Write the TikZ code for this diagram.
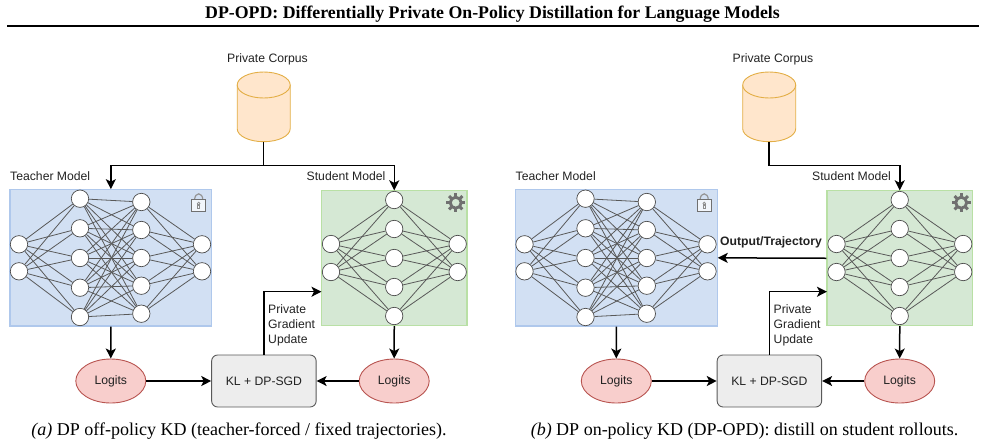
\documentclass[tikz,border=0pt]{standalone}
\usepackage{fontspec}
\setmainfont{Liberation Serif}
\setsansfont{Liberation Sans}
\usetikzlibrary{arrows.meta,shapes.geometric}
\definecolor{inkc}{HTML}{222222}
\definecolor{tfill}{HTML}{D2E0F3}
\definecolor{tline}{HTML}{AFC8EC}
\definecolor{sfill}{HTML}{D5E8D4}
\definecolor{sline}{HTML}{B9E0A5}
\definecolor{lfill}{HTML}{F8CECC}
\definecolor{lline}{HTML}{B85450}
\definecolor{cfill}{HTML}{FFE6CC}
\definecolor{cline}{HTML}{E3AE45}
\definecolor{iconc}{HTML}{707070}
\tikzset{
  neuron/.style={circle,draw=black!70,fill=white,line width=0.7pt,minimum size=17.4pt,inner sep=0pt},
  edge/.style={draw=black!65,line width=0.8pt},
  flow/.style={draw=black,line width=1.5pt,-{Stealth[length=10pt,width=10pt,inset=2.5pt]}},
  teacherbox/.style={rectangle,fill=tfill,draw=tline,line width=1.1pt,minimum width=201.7pt,minimum height=136.3pt,inner sep=0pt},
  studentbox/.style={rectangle,fill=sfill,draw=sline,line width=1.1pt,minimum width=145.5pt,minimum height=134.8pt,inner sep=0pt},
  txt/.style={font=\sffamily\fontsize{12.2}{15}\selectfont,text=inkc},
  logits/.style={ellipse,draw=lline,fill=lfill,line width=0.9pt,minimum width=70pt,minimum height=44pt,inner sep=0pt,txt},
  lossbox/.style={rectangle,rounded corners=6pt,draw=black!65,fill=black!7,line width=0.9pt,minimum width=104.5pt,minimum height=52pt,inner sep=0pt,txt},
  corpusbox/.style={inner sep=0pt,minimum width=53pt,minimum height=70pt},
  captxt/.style={font=\rmfamily\fontsize{18}{20}\selectfont,text=black,anchor=base}
}
\newcommand{\panel}[2]{%
\begin{scope}[xshift=#2pt]
  % corpus
  \node[txt] (corpuslabel#1) at (267.5,59) {Private Corpus};
  \node[corpusbox] (corpus#1) at (263.7,106.7) {};
  \fill[cfill] (237.2,85) -- (237.2,128.7) arc[start angle=180,end angle=360,x radius=26.5,y radius=-13] -- (290.2,85) -- cycle;
  \draw[cline,line width=0.9pt] (237.2,85) -- (237.2,128.7) arc[start angle=180,end angle=360,x radius=26.5,y radius=-13] -- (290.2,85);
  \draw[cline,fill=cfill,line width=0.9pt] (263.7,85) ellipse[x radius=26.5,y radius=13];
  % boxes
  \node[teacherbox] (teacher#1) at (110.85,257.85) {};
  \node[studentbox] (student#1) at (394.25,258.25) {};
  \node[txt,anchor=west,inner sep=0pt] (tlabel#1) at (10,176.5) {Teacher Model};
  \node[txt,anchor=west,inner sep=0pt] (slabel#1) at (306.5,176.5) {Student Model};
  % teacher net
  \foreach \n/\xx/\yy in {a/19/244.3,b/19/271.3,c/80/198.7,d/80/228.3,e/80/258,f/80/287.7,g/80/317,h/141.3/202,i/141.3/230,j/141.3/258,k/141.3/285.7,l/141.3/313.7,m/202/244.3,o/202/271.3}
    \node[neuron] (t#1\n) at (\xx,\yy) {};
  \foreach \p in {a,b} \foreach \q in {c,d,e,f,g} \draw[edge] (t#1\p) -- (t#1\q);
  \foreach \p in {c,d,e,f,g} \foreach \q in {h,i,j,k,l} \draw[edge] (t#1\p) -- (t#1\q);
  \foreach \p in {h,i,j,k,l} \foreach \q in {m,o} \draw[edge] (t#1\p) -- (t#1\q);
  % student net
  \foreach \n/\xx/\yy in {a/331/244,b/331/272,c/394.2/200,d/394.2/229,e/394.2/258,f/394.2/287,g/394.2/316,h/457.7/244,i/457.7/272}
    \node[neuron] (s#1\n) at (\xx,\yy) {};
  \foreach \p in {a,b} \foreach \q in {c,d,e,f,g} \draw[edge] (s#1\p) -- (s#1\q);
  \foreach \p in {c,d,e,f,g} \foreach \q in {h,i} \draw[edge] (s#1\p) -- (s#1\q);
  % lock
  \draw[iconc!75,line width=1.2pt] (194.6,200) .. controls (194.6,191.8) and (202.8,191.8) .. (202.8,200);
  \draw[iconc,fill=white!70!tfill,line width=0.8pt] (191.7,199) rectangle (205.7,211.7);
  \fill[iconc!80] (198.7,203.4) circle[radius=1.8];
  \fill[iconc!80] (197.2,204.4) rectangle (200.2,208.6);
  \fill[white!70!tfill] (198.7,203.4) circle[radius=0.6];
  \fill[white!70!tfill] (198.1,205.6) rectangle (199.3,207.6);
  % gear
  \foreach \ang in {0,45,...,315}
    \fill[iconc,rotate around={\ang:(455.7,202.7)}] (454.2,193.3) rectangle (457.2,197);
  \draw[iconc,line width=2.9pt] (455.7,202.7) circle[radius=5.5];
  % bottom
  \node[logits] (tlog#1) at (110.8,381) {Logits};
  \node[logits] (slog#1) at (394.2,381) {Logits};
  \node[lossbox] (loss#1) at (263.9,381) {KL + DP-SGD};
  \coordinate (upd#1) at (321.5,291.7);
  \coordinate (bus#1) at (263.7,165.5);
  \draw[flow] (teacher#1.south) -- (tlog#1.north);
  \draw[flow] (student#1.south) -- (slog#1.north);
  \draw[flow] (tlog#1) -- (loss#1);
  \draw[flow] (slog#1) -- (loss#1);
  \draw[flow] (loss#1.north) |- (upd#1);
  \node[txt,anchor=west,align=left,inner sep=0pt] (upl#1) at (268,325) {Private\\Gradient\\Update};
  \draw[flow] (corpus#1.south) -- (bus#1) -| (student#1.north);
\end{scope}}
\begin{document}
\begin{tikzpicture}[x=1pt,y=-1pt]
\useasboundingbox (0,0) rectangle (985,445);
\node[font=\rmfamily\bfseries\fontsize{17.8}{20}\selectfont,anchor=base] (title) at (492.5,18.3) {DP-OPD: Differentially Private On-Policy Distillation for Language Models};
\coordinate (ruleL) at (7,25.7);
\coordinate (ruleR) at (979,25.7);
\draw[black,line width=1.6pt] (ruleL) -- (ruleR);
\panel{A}{0}
\panel{B}{505.5}
\draw[flow] (busA) -| (teacherA.north);
\draw[flow] (studentB.west) -- (teacherB.east);
\node[txt,font=\sffamily\bfseries\fontsize{12.2}{15}\selectfont] (outl) at (771,242) {Output/Trajectory};
\node[captxt] (capa) at (239,435) {\textit{(a)} DP off-policy KD (teacher-forced / fixed trajectories).};
\node[captxt] (capb) at (744.5,435) {\textit{(b)} DP on-policy KD (DP-OPD): distill on student rollouts.};
\end{tikzpicture}
\end{document}
